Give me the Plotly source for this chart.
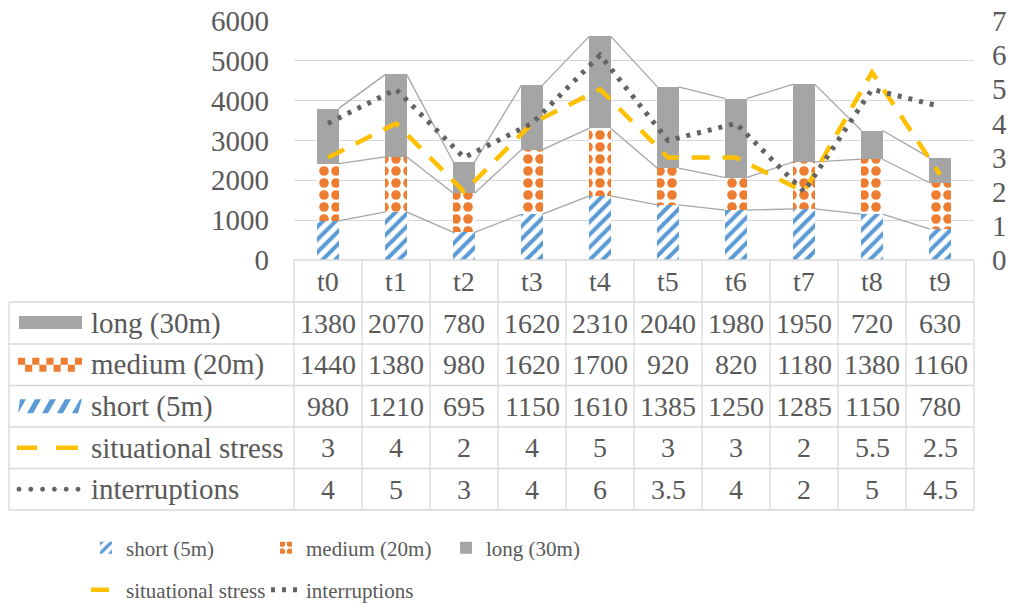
import plotly.graph_objects as go

# ---------------- data ----------------
categories = ["t0", "t1", "t2", "t3", "t4", "t5", "t6", "t7", "t8", "t9"]
short_5m = [980, 1210, 695, 1150, 1610, 1385, 1250, 1285, 1150, 780]
medium_20m = [1440, 1380, 980, 1620, 1700, 920, 820, 1180, 1380, 1160]
long_30m = [1380, 2070, 780, 1620, 2310, 2040, 1980, 1950, 720, 630]
situational_stress = [3, 4, 2, 4, 5, 3, 3, 2, 5.5, 2.5]
interruptions = [4, 5, 3, 4, 6, 3.5, 4, 2, 5, 4.5]
left_ticks = [0, 1000, 2000, 3000, 4000, 5000, 6000]
right_ticks = [0, 1, 2, 3, 4, 5, 6, 7]

# ---------------- style ----------------
W, H = 1018, 611
PL, PR, PT, PB = 294, 974, 21, 260        # plot area in pixels
FONT = "Liberation Serif, Times New Roman, serif"
TXT = "#595959"
GRID = "#D9D9D9"
C_SHORT, C_MED, C_LONG = "#5B9BD5", "#ED7D31", "#A5A5A5"
C_STRESS, C_INT = "#FFC000", "#636363"
BAR_W = 0.31


def px(x):
    return (x - PL) / (PR - PL)


def py(y):
    return (PB - y) / (PB - PT)


x_idx = list(range(len(categories)))
fig = go.Figure()

fig.add_trace(go.Bar(
    x=x_idx, y=short_5m, name="short (5m)", width=BAR_W,
    marker=dict(color="white", line=dict(width=0),
                pattern=dict(shape="/", fgcolor=C_SHORT, bgcolor="white",
                             size=9, solidity=0.45, fillmode="overlay", fgopacity=1)),
    legend="legend", hoverinfo="skip"))
fig.add_trace(go.Bar(
    x=x_idx, y=medium_20m, name="medium (20m)", width=BAR_W,
    marker=dict(color="white", line=dict(width=0),
                pattern=dict(shape=".", fgcolor=C_MED, bgcolor="white",
                             size=12, solidity=0.5, fillmode="overlay", fgopacity=1)),
    legend="legend", hoverinfo="skip"))
fig.add_trace(go.Bar(
    x=x_idx, y=long_30m, name="long (30m)", width=BAR_W,
    marker=dict(color=C_LONG, line=dict(width=0)),
    legend="legend", hoverinfo="skip"))

# series lines connecting stack segments (Excel style)
levels = []
acc = [0] * len(categories)
for seg in (short_5m, medium_20m, long_30m):
    acc = [a + s for a, s in zip(acc, seg)]
    levels.append(list(acc))
for lev in levels:
    xs, ys = [], []
    for i in range(len(categories) - 1):
        xs += [i + BAR_W / 2, i + 1 - BAR_W / 2, None]
        ys += [lev[i], lev[i + 1], None]
    fig.add_trace(go.Scatter(x=xs, y=ys, mode="lines", showlegend=False,
                             line=dict(color="#A6A6A6", width=1.3),
                             hoverinfo="skip"))

fig.add_trace(go.Scatter(
    x=x_idx, y=situational_stress, name="situational stress", yaxis="y2",
    mode="lines", line=dict(color=C_STRESS, width=4.5, dash="18px,13px"),
    legend="legend2", hoverinfo="skip"))
fig.add_trace(go.Scatter(
    x=x_idx, y=interruptions, name="interruptions", yaxis="y2",
    mode="lines", line=dict(color=C_INT, width=5, dash="4px,7px"),
    legend="legend2", hoverinfo="skip"))

# ---------------- data table ----------------
shapes = []
line_style = dict(color=GRID, width=1.3)
col_w = (PR - PL) / len(categories)
row_edges = [302, 344, 385.5, 427, 468.5, 510]
for i in range(len(categories) + 1):
    xx = PL + col_w * i
    shapes.append(dict(type="line", xref="paper", yref="paper",
                       x0=px(xx), x1=px(xx), y0=py(PB), y1=py(510), line=line_style))
shapes.append(dict(type="line", xref="paper", yref="paper",
                   x0=px(PL), x1=px(PR), y0=py(PB), y1=py(PB), line=line_style))
for ry in row_edges:
    shapes.append(dict(type="line", xref="paper", yref="paper",
                       x0=px(9), x1=px(PR), y0=py(ry), y1=py(ry), line=line_style))
shapes.append(dict(type="line", xref="paper", yref="paper",
                   x0=px(9), x1=px(9), y0=py(302), y1=py(510), line=line_style))

annotations = []
header_y = (PB + 302) / 2
for i, c in enumerate(categories):
    annotations.append(dict(x=i, y=py(header_y), xref="x", yref="paper", text=c,
                            showarrow=False, xanchor="center", yanchor="middle",
                            font=dict(family=FONT, size=28, color=TXT)))

table_rows = [
    ("long (30m)", long_30m),
    ("medium (20m)", medium_20m),
    ("short (5m)", short_5m),
    ("situational stress", situational_stress),
    ("interruptions", interruptions),
]
row_centers = []
for r, (label, vals) in enumerate(table_rows):
    cy = (row_edges[r] + row_edges[r + 1]) / 2
    row_centers.append(cy)
    annotations.append(dict(x=px(89), y=py(cy), xref="paper", yref="paper", text=label,
                            showarrow=False, xanchor="left", yanchor="middle",
                            font=dict(family=FONT, size=29, color=TXT)))
    for i, v in enumerate(vals):
        annotations.append(dict(x=i, y=py(cy), xref="x", yref="paper", text=f"{v:g}",
                                showarrow=False, xanchor="center", yanchor="middle",
                                font=dict(family=FONT, size=28, color=TXT)))


def rect(x0, y0, x1, y1, color):
    return dict(type="rect", xref="paper", yref="paper", x0=px(x0), x1=px(x1),
                y0=py(y1), y1=py(y0), fillcolor=color, line=dict(width=0))


# legend keys inside the table
cy = row_centers[0]
shapes.append(rect(19, cy - 7, 82, cy + 6, C_LONG))
cy = row_centers[1]
sq = 64 / 9
for col in range(9):
    for row in range(2):
        if (col + row) % 2 == 0:
            x0 = 18 + col * sq
            y0 = cy - 7 + row * 7
            shapes.append(rect(x0, y0, x0 + sq, y0 + 7, C_MED))
cy = row_centers[2]
for k in range(5):
    x0 = 12 + k * 15
    pts = [(x0, cy + 7), (x0 + 6, cy + 7), (x0 + 14, cy - 7), (x0 + 8, cy - 7)]
    pts = [(min(max(a, 18), 82), b) for a, b in pts]
    path = "M " + " L ".join(f"{px(a)},{py(b)}" for a, b in pts) + " Z"
    shapes.append(dict(type="path", xref="paper", yref="paper", path=path,
                       fillcolor=C_SHORT, line=dict(width=0)))
cy = row_centers[3]
for a, b in ((17, 37), (56, 78)):
    shapes.append(dict(type="line", xref="paper", yref="paper", x0=px(a), x1=px(b),
                       y0=py(cy), y1=py(cy), line=dict(color=C_STRESS, width=4.5)))
cy = row_centers[4]
for k in range(6):
    cx = 19 + k * 11.8
    shapes.append(dict(type="circle", xref="paper", yref="paper",
                       x0=px(cx - 2.4), x1=px(cx + 2.4), y0=py(cy + 2.4), y1=py(cy - 2.4),
                       fillcolor=C_INT, line=dict(width=0)))

legend_font = dict(family=FONT, size=21, color=TXT)
fig.update_layout(
    width=W, height=H,
    margin=dict(l=PL, r=W - PR, t=PT, b=H - PB, pad=0, autoexpand=False),
    paper_bgcolor="white", plot_bgcolor="white",
    barmode="stack",
    font=dict(family=FONT, color=TXT),
    xaxis=dict(range=[-0.5, len(categories) - 0.5], showticklabels=False,
               showgrid=False, zeroline=False, showline=False, ticks="",
               fixedrange=True),
    yaxis=dict(range=[0, 6000], tickvals=left_ticks, showgrid=True, gridcolor=GRID,
               gridwidth=1.3, zeroline=False, showline=False, ticks="",
               ticklabelstandoff=24, ticklabeloverflow="allow",
               tickfont=dict(family=FONT, size=29, color=TXT)),
    yaxis2=dict(range=[0, 7], tickvals=right_ticks, overlaying="y", side="right",
                showgrid=False, zeroline=False, showline=False, ticks="",
                ticklabelstandoff=17, ticklabeloverflow="allow",
                tickfont=dict(family=FONT, size=29, color=TXT)),
    legend=dict(orientation="h", x=px(86), y=py(548), xanchor="left", yanchor="middle",
                entrywidth=135, font=legend_font, bgcolor="rgba(0,0,0,0)",
                traceorder="normal"),
    legend2=dict(orientation="h", x=px(86), y=py(590), xanchor="left", yanchor="middle",
                 entrywidth=135, font=legend_font, bgcolor="rgba(0,0,0,0)",
                 traceorder="normal"),
    shapes=shapes,
    annotations=annotations,
)

# remove the default page margin so the 1018x611 figure fills the window exactly
fig.write_html("out.html",
               config={"displayModeBar": False},
               post_script="document.body.style.margin='0';"
                           "document.body.style.overflow='hidden';")
